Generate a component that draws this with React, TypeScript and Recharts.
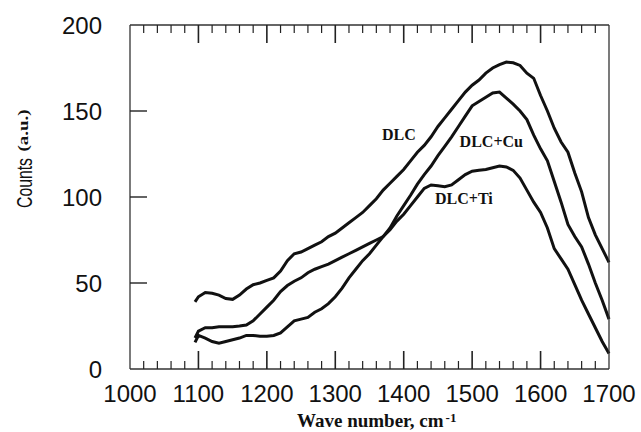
import { LineChart, Line, XAxis, YAxis, ReferenceDot } from 'recharts';

const wavenumbers = [
  1095, 1100, 1110, 1120, 1130, 1140, 1150, 1160, 1170, 1180, 1190,
  1200, 1210, 1220, 1230, 1240, 1250, 1260, 1270, 1280, 1290,
  1300, 1310, 1320, 1330, 1340, 1350, 1360, 1370, 1380, 1390,
  1400, 1410, 1420, 1430, 1440, 1450, 1460, 1470, 1480, 1490,
  1500, 1510, 1520, 1530, 1540, 1550, 1560, 1570, 1580, 1590,
  1600, 1610, 1620, 1630, 1640, 1650, 1660, 1670, 1680, 1690,
  1700,
];

const dlc = [
  39, 42, 44.5, 44, 43, 41, 40.5, 43, 46.5, 49, 50,
  51.5, 53, 57, 63, 67, 68, 70, 72, 74, 77,
  79, 82, 85, 88, 91, 95, 99, 104, 108, 112,
  116, 121, 126, 130, 135, 141, 146, 151, 156, 161,
  165, 168, 172, 175, 177, 178.5, 178, 176.5, 172, 169,
  159, 150, 140, 132, 126, 114, 103, 88, 78, 70,
  62,
];

const dlcCu = [
  18, 22, 24, 24, 24.5, 24.5, 24.6, 25, 25.6, 28, 32,
  36, 40, 45, 48.5, 51, 53, 56, 58, 59.5, 61,
  63, 65, 67, 69, 71, 73, 75, 77, 82, 89,
  95, 101, 107.5, 113, 118, 124, 129.5, 135, 141, 147,
  153, 155.5, 158, 160.5, 161, 157.5, 154, 150, 145, 136,
  128, 121, 109, 97, 84, 77, 71, 61, 50, 40,
  29,
];

const dlcTi = [
  15.5, 19.5, 18, 16, 15, 16, 17, 18, 19.5, 19.5, 19,
  19, 19.5, 21, 24.5, 28, 29, 30, 33, 35, 38,
  42, 47, 53, 58, 63, 67, 72, 77, 81, 86,
  90, 95, 100, 105, 107, 106.5, 106, 107, 110, 113,
  115, 115.5, 116, 117, 118, 117.5, 115.5, 111, 104, 97,
  91, 82, 70, 64, 58, 49, 40, 32, 24, 16,
  9,
];

const yLabels = [0, 50, 100, 150, 200];

const data = wavenumbers.map((w, i) => ({ w, dlc: dlc[i], cu: dlcCu[i], ti: dlcTi[i] }));

// minor ticks every 20 along the wave-number axis, labels on the hundreds
const xTicks: number[] = [];
for (let v = 1000; v <= 1700; v += 20) xTicks.push(v);

const INK = '#111';
const SANS = '"Liberation Sans", Arial, sans-serif';
const SERIF = '"Liberation Serif", "Times New Roman", serif';

const isMajor = (v: number) => v % 100 === 0;
const inside = (v: number) => v > 1000 && v < 1700;

function BottomTick({ x, y, payload }: any) {
  const v = payload.value;
  return (
    <g>
      {inside(v) && (
        <line x1={x} x2={x} y1={y} y2={y - (isMajor(v) ? 18 : 8)} stroke="#222" strokeWidth={isMajor(v) ? 1.6 : 1.2} />
      )}
      {isMajor(v) && (
        <text x={x} y={y + 33} textAnchor="middle" fontSize={24} fontFamily={SANS} fill={INK}>{v}</text>
      )}
    </g>
  );
}

function TopTick({ x, y, payload }: any) {
  const v = payload.value;
  if (!inside(v)) return <g />;
  return <line x1={x} x2={x} y1={y} y2={y + (isMajor(v) ? 18 : 8)} stroke="#222" strokeWidth={isMajor(v) ? 1.6 : 1.2} />;
}

function LeftTick({ x, y, payload }: any) {
  const v = payload.value;
  return (
    <g>
      {v > 0 && v < 200 && <line x1={x} x2={x + 17} y1={y} y2={y} stroke="#222" strokeWidth={1.4} />}
      <text x={x - 28} y={y} dy="0.36em" textAnchor="end" fontSize={24} fontFamily={SANS} fill={INK}>{v}</text>
    </g>
  );
}

function RightTick({ x, y, payload }: any) {
  const v = payload.value;
  if (v <= 0 || v >= 200) return <g />;
  return <line x1={x} x2={x - 16} y1={y} y2={y} stroke="#222" strokeWidth={1.4} />;
}

const tagStyle = { fill: INK, fontSize: 16, fontWeight: 'bold', fontFamily: SERIF };

export default function App() {
  return (
    <div style={{ position: 'absolute', left: 0, top: 0, width: 641, height: 432, background: '#fff' }}>
      <LineChart width={641} height={432} data={data} margin={{ top: 0, right: 0, bottom: 0, left: 0 }}>
        <XAxis
          dataKey="w" type="number" domain={[1000, 1700]} ticks={xTicks} interval={0}
          height={63} tickSize={0} tickMargin={0} tickLine={false}
          axisLine={{ stroke: '#333', strokeWidth: 1.3 }} tick={<BottomTick />}
        />
        <XAxis
          xAxisId="top" orientation="top" dataKey="w" type="number" domain={[1000, 1700]} ticks={xTicks} interval={0}
          height={25} tickSize={0} tickMargin={0} tickLine={false}
          axisLine={{ stroke: '#333', strokeWidth: 1.3 }} tick={<TopTick />}
        />
        <YAxis
          type="number" domain={[0, 200]} ticks={yLabels} interval={0} width={130}
          tickSize={0} tickMargin={0} tickLine={false}
          axisLine={{ stroke: '#333', strokeWidth: 1.3 }} tick={<LeftTick />}
        />
        <YAxis
          yAxisId="right" orientation="right" type="number" domain={[0, 200]} ticks={yLabels} interval={0} width={32}
          tickSize={0} tickMargin={0} tickLine={false}
          axisLine={{ stroke: '#333', strokeWidth: 1.3 }} tick={<RightTick />}
        />
        <Line dataKey="dlc" type="linear" stroke={INK} strokeWidth={3} dot={false} isAnimationActive={false} />
        <Line dataKey="cu" type="linear" stroke={INK} strokeWidth={3} dot={false} isAnimationActive={false} />
        <Line dataKey="ti" type="linear" stroke={INK} strokeWidth={3} dot={false} isAnimationActive={false} />
        <ReferenceDot x={1393} y={136.5} r={0} fill="none" stroke="none" label={{ value: 'DLC', position: 'center', ...tagStyle }} />
        <ReferenceDot x={1528} y={132.5} r={0} fill="none" stroke="none" label={{ value: 'DLC+Cu', position: 'center', ...tagStyle }} />
        <ReferenceDot x={1488} y={99} r={0} fill="none" stroke="none" label={{ value: 'DLC+Ti', position: 'center', ...tagStyle }} />
      </LineChart>
      <svg width={641} height={432} style={{ position: 'absolute', left: 0, top: 0, pointerEvents: 'none' }}>
        <text x={32} y={183} transform="rotate(-90 32 183)" textAnchor="middle" fontSize={22} fontFamily={SANS}
          fill={INK} textLength={50} lengthAdjust="spacingAndGlyphs">Counts</text>
        <text x={28} y={130.5} transform="rotate(-90 28 130.5)" textAnchor="middle" fontSize={14} fontWeight="bold"
          fontFamily={SERIF} fill={INK} textLength={42} lengthAdjust="spacingAndGlyphs">(a.u.)</text>
        <text x={297} y={427} fontSize={19} fontWeight="bold" fontFamily={SERIF} fill={INK}>
          Wave number, cm<tspan dx={2} dy={-5} fontSize={13}>-1</tspan>
        </text>
      </svg>
    </div>
  );
}
